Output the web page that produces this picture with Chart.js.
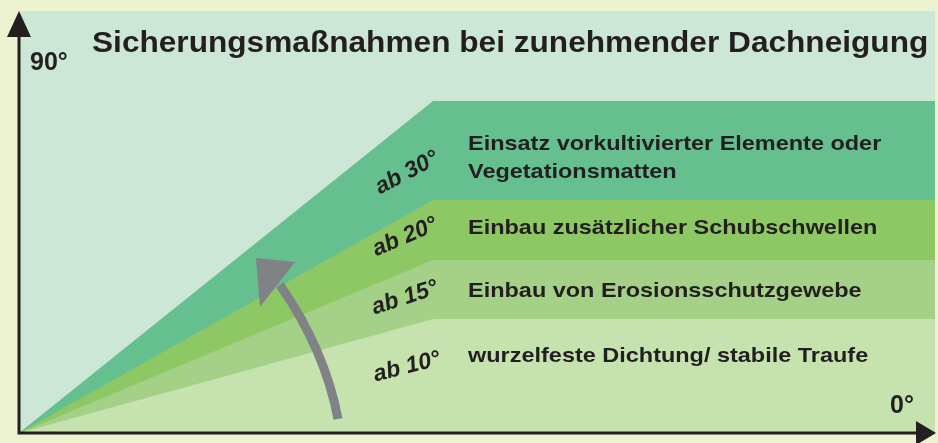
<!DOCTYPE html>
<html>
<head>
<meta charset="utf-8">
<script src="https://cdn.jsdelivr.net/npm/chart.js@4/dist/chart.umd.min.js"></script>
<style>
    body { margin: 0; background: #edf3d1; }
    canvas { display: block; }
</style>
</head>
<body>
<canvas id="roofChart" width="938" height="443"></canvas>
<script>
// x: origin, kink of the bands, right edge
var slopeX = [0, 45.2, 100];
// plateau height of each band, lowest first
var bandTops = [27.0, 41.0, 55.2, 78.7];
var bandAngles = ['ab 10°', 'ab 15°', 'ab 20°', 'ab 30°'];
var bandTexts = [
    ['wurzelfeste Dichtung/ stabile Traufe'],
    ['Einbau von Erosionsschutzgewebe'],
    ['Einbau zusätzlicher Schubschwellen'],
    ['Einsatz vorkultivierter Elemente oder', 'Vegetationsmatten']
];
var bandColors = ['#c5e2af', '#a4d087', '#8ec865', '#65bf8e'];
var titleText = 'Sicherungsmaßnahmen bei zunehmender Dachneigung';
var axisLabels = ['90°', '0°'];

var ink = '#231f20';
var sans = '"Liberation Sans", Arial, sans-serif';

// each band: rises from the origin to its plateau
var datasets = bandTops.map(function (top, i) {
    return {
        label: bandAngles[i],
        data: [
            { x: slopeX[0], y: 0 },
            { x: slopeX[1], y: top },
            { x: slopeX[2], y: top }
        ],
        backgroundColor: bandColors[i],
        borderWidth: 0,
        pointRadius: 0,
        tension: 0,
        fill: 'origin'
    };
});

// the original lettering is a bit wider than Liberation Sans
function wideText(ctx, text, x, y, stretch) {
    ctx.save();
    ctx.translate(x, y);
    ctx.scale(stretch, 1);
    ctx.fillText(text, 0, 0);
    ctx.restore();
}

var decoPlugin = {
    id: 'deco',
    beforeDraw: function (chart) {
        var ctx = chart.ctx;
        var a = chart.chartArea;
        ctx.save();
        ctx.fillStyle = '#edf3d1';
        ctx.fillRect(0, 0, chart.width, chart.height);
        ctx.fillStyle = '#cde7d7';
        ctx.fillRect(a.left - 1, a.top, a.right - a.left + 1, a.bottom - a.top);
        ctx.restore();
    },
    afterDatasetsDraw: function (chart) {
        var ctx = chart.ctx;
        var a = chart.chartArea;
        var xs = chart.scales.x;
        ctx.save();
        ctx.fillStyle = ink;
        ctx.textAlign = 'left';
        ctx.textBaseline = 'alphabetic';

        // title
        ctx.font = 'bold 30px ' + sans;
        wideText(ctx, titleText, 92, 52, 1.054);

        // axis labels
        ctx.font = 'bold 25px ' + sans;
        ctx.fillText(axisLabels[0], 30, 70);
        ctx.fillText(axisLabels[1], 890, 413);

        // band descriptions, right of the kink
        var textX = xs.getPixelForValue(slopeX[1]) + 35;
        var baselines = [[362], [297], [234], [150, 178]];
        ctx.font = 'bold 21px ' + sans;
        bandTexts.forEach(function (lines, i) {
            lines.forEach(function (line, j) {
                wideText(ctx, line, textX, baselines[i][j], 1.117);
            });
        });

        // rotated angle labels
        var centers = [[407, 367], [405, 298], [405, 237], [407, 173]];
        var rot = [-14, -18, -23, -28];
        ctx.font = 'italic bold 23px ' + sans;
        ctx.textAlign = 'center';
        ctx.textBaseline = 'middle';
        bandAngles.forEach(function (txt, i) {
            ctx.save();
            ctx.translate(centers[i][0], centers[i][1]);
            ctx.rotate(rot[i] * Math.PI / 180);
            ctx.fillText(txt, 0, 0);
            ctx.restore();
        });

        // curved grey arrow
        ctx.strokeStyle = '#808285';
        ctx.fillStyle = '#808285';
        ctx.lineWidth = 9;
        ctx.beginPath();
        ctx.moveTo(338, 419);
        ctx.quadraticCurveTo(325, 350, 280, 285);
        ctx.stroke();
        ctx.beginPath();
        ctx.moveTo(256, 258);
        ctx.lineTo(295, 262);
        ctx.lineTo(260, 307);
        ctx.closePath();
        ctx.fill();

        // axes with arrowheads
        var x0 = a.left;
        var y0 = a.bottom;
        ctx.strokeStyle = ink;
        ctx.fillStyle = ink;
        ctx.lineWidth = 3;
        ctx.beginPath();
        ctx.moveTo(x0, y0 + 1.5);
        ctx.lineTo(x0, a.top + 20);
        ctx.moveTo(x0 - 1.5, y0);
        ctx.lineTo(a.right - 10, y0);
        ctx.stroke();
        ctx.beginPath();
        ctx.moveTo(x0, a.top);
        ctx.lineTo(x0 + 12, a.top + 26);
        ctx.lineTo(x0 - 12, a.top + 26);
        ctx.closePath();
        ctx.fill();
        ctx.beginPath();
        ctx.moveTo(a.right + 1, y0);
        ctx.lineTo(a.right - 19, y0 - 12);
        ctx.lineTo(a.right - 19, y0 + 12);
        ctx.closePath();
        ctx.fill();
        ctx.restore();
    }
};

new Chart(document.getElementById('roofChart'), {
    type: 'line',
    data: { datasets: datasets },
    options: {
        responsive: false,
        devicePixelRatio: 1,
        animation: false,
        layout: { padding: { left: 19, right: 3, top: 11, bottom: 10 } },
        plugins: {
            legend: { display: false },
            tooltip: { enabled: false }
        },
        scales: {
            x: { type: 'linear', min: 0, max: 100, display: false },
            y: { min: 0, max: 100, display: false }
        }
    },
    plugins: [decoPlugin]
});
</script>
</body>
</html>
